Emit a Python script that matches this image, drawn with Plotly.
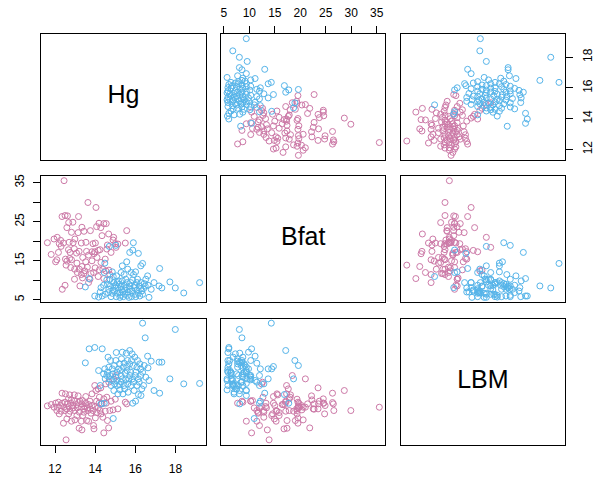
import plotly.graph_objects as go

# ---------------- data ----------------
hg_f = [11.62, 11.81, 11.95, 12.03, 12.09, 12.11, 12.17, 12.21, 12.28, 12.30,
        12.35, 12.36, 12.42, 12.45, 12.50, 12.50, 12.52, 12.55, 12.59, 12.59,
        12.62, 12.67, 12.68, 12.70, 12.73, 12.75, 12.78, 12.82, 12.82, 12.89,
        12.90, 12.96, 12.97, 12.98, 12.99, 13.07, 13.09, 13.11, 13.15, 13.17,
        13.20, 13.21, 13.24, 13.31, 13.31, 13.34, 13.34, 13.37, 13.38, 13.44,
        13.44, 13.48, 13.53, 13.54, 13.57, 13.61, 13.64, 13.67, 13.67, 13.74,
        13.76, 13.79, 13.84, 13.84, 13.89, 13.92, 13.94, 13.98, 14.00, 14.01,
        14.04, 14.07, 14.09, 14.15, 14.15, 14.19, 14.21, 14.24, 14.28, 14.29,
        14.34, 14.38, 14.43, 14.43, 14.50, 14.53, 14.55, 14.58, 14.61, 14.67,
        14.68, 14.73, 14.79, 14.89, 14.92, 15.00, 15.04, 15.13, 15.50, 15.57]
bfat_f = [19.63, 16.62, 20.57, 14.73, 15.25, 21.00, 17.14, 19.37, 20.23, 18.68,
          26.33, 7.69, 19.54, 35.52, 8.72, 26.59, 15.42, 13.88, 14.91, 23.49,
          26.50, 17.83, 24.78, 19.72, 15.59, 17.14, 13.27, 22.29, 15.25, 24.87,
          19.63, 18.08, 10.27, 12.84, 20.57, 16.97, 14.39, 11.99, 22.21, 26.33,
          17.40, 12.84, 8.55, 19.54, 11.47, 23.58, 13.53, 10.61, 15.85, 22.55,
          11.73, 12.42, 14.73, 19.72, 17.40, 13.36, 29.93, 16.45, 9.41, 10.27,
          22.72, 11.73, 17.31, 14.99, 19.37, 11.99, 16.80, 17.31, 13.19, 19.54,
          28.65, 23.75, 15.85, 17.65, 10.96, 24.61, 12.67, 17.83, 23.49, 14.56,
          21.43, 12.84, 24.52, 10.44, 15.42, 12.42, 24.52, 18.00, 19.03, 21.86,
          12.59, 11.47, 17.14, 20.32, 21.00, 19.37, 18.43, 19.29, 19.54, 22.72]
lbm_f = [55.24, 56.06, 54.42, 56.88, 52.38, 54.42, 57.49, 50.33, 55.45, 51.97,
         63.02, 56.88, 44.60, 54.42, 57.49, 52.38, 62.61, 34.40, 47.26, 53.40,
         56.47, 59.54, 50.33, 54.83, 62.00, 51.97, 56.88, 58.93, 45.83, 55.45,
         54.01, 62.00, 58.11, 52.38, 46.65, 56.06, 49.31, 54.01, 61.38, 57.29,
         41.53, 51.35, 58.11, 54.42, 45.83, 56.47, 40.50, 58.52, 49.31, 53.40,
         51.35, 54.83, 60.97, 56.88, 46.24, 54.01, 52.38, 56.06, 45.83, 58.11,
         53.20, 50.74, 62.61, 55.45, 52.38, 43.17, 41.12, 67.73, 54.83, 47.87,
         64.66, 58.11, 51.15, 65.68, 54.01, 56.88, 60.56, 52.38, 66.30, 50.33,
         56.47, 48.28, 59.54, 38.66, 51.97, 68.75, 56.88, 60.56, 46.24, 41.73,
         69.78, 52.38, 58.11, 52.79, 71.82, 59.34, 73.87, 53.40, 57.49, 56.47]

hg_m = [13.51, 13.70, 13.98, 14.17, 14.25, 14.29, 14.35, 14.42, 14.45, 14.48,
        14.50, 14.58, 14.61, 14.64, 14.68, 14.70, 14.74, 14.76, 14.79, 14.85,
        14.85, 14.89, 14.90, 14.93, 14.96, 14.97, 15.02, 15.03, 15.05, 15.07,
        15.09, 15.11, 15.13, 15.16, 15.21, 15.21, 15.23, 15.26, 15.29, 15.29,
        15.31, 15.35, 15.35, 15.38, 15.40, 15.44, 15.44, 15.47, 15.49, 15.52,
        15.55, 15.57, 15.59, 15.61, 15.62, 15.64, 15.68, 15.72, 15.72, 15.73,
        15.77, 15.79, 15.81, 15.84, 15.86, 15.87, 15.90, 15.91, 15.94, 15.97,
        15.99, 16.01, 16.02, 16.08, 16.08, 16.11, 16.15, 16.15, 16.19, 16.22,
        16.27, 16.27, 16.28, 16.32, 16.36, 16.36, 16.41, 16.44, 16.49, 16.52,
        16.61, 16.63, 16.68, 16.79, 16.93, 17.18, 17.21, 17.32, 17.72, 17.99,
        18.41, 19.20]
bfat_m = [8.29, 10.44, 5.97, 5.70, 7.00, 8.12, 5.97, 8.72, 11.99, 14.39,
          6.40, 10.10, 8.98, 6.83, 7.69, 18.68, 10.27, 8.55, 5.80, 12.16,
          6.66, 7.52, 10.96, 9.41, 8.38, 7.26, 8.72, 18.94, 5.80, 11.13,
          9.41, 6.66, 8.04, 9.84, 8.98, 6.83, 5.63, 6.15, 11.99, 8.38,
          7.69, 9.84, 13.70, 7.00, 5.80, 11.47, 8.72, 7.52, 6.40, 10.27,
          8.12, 14.73, 9.41, 6.15, 12.85, 7.00, 5.63, 17.14, 7.69, 8.55,
          9.41, 11.99, 5.80, 7.26, 10.10, 17.74, 19.63, 11.47, 8.12, 8.72,
          6.40, 12.16, 5.80, 9.41, 7.52, 10.27, 16.88, 6.66, 8.55, 5.97,
          13.70, 7.86, 9.41, 7.26, 14.31, 6.40, 7.86, 9.15, 8.55, 10.27,
          11.13, 8.72, 5.63, 7.69, 9.41, 8.55, 13.02, 8.04, 9.58, 8.04,
          6.75, 9.40]
lbm_m = [81.65, 90.25, 91.07, 76.94, 67.73, 56.47, 90.25, 74.89, 56.88, 77.96,
         71.82, 73.87, 75.92, 85.13, 78.99, 71.82, 73.87, 83.08, 67.73, 77.96,
         70.80, 74.89, 47.47, 64.66, 80.01, 68.75, 72.85, 83.08, 87.99, 70.80,
         75.92, 67.73, 62.61, 77.96, 81.04, 68.34, 65.07, 76.94, 73.87, 69.78,
         84.10, 88.20, 71.82, 62.61, 78.99, 81.44, 67.73, 65.68, 75.30, 71.21,
         87.58, 79.40, 76.94, 83.08, 68.75, 63.64, 71.82, 89.22, 81.04, 73.87,
         75.92, 67.73, 83.08, 87.18, 71.82, 56.88, 80.01, 69.78, 64.66, 85.13,
         73.87, 58.11, 75.92, 78.99, 67.73, 83.08, 62.20, 71.82, 69.78, 81.04,
         77.96, 73.87, 61.59, 65.68, 106.00, 75.92, 67.73, 80.01, 97.00, 72.85,
         85.74, 78.58, 70.80, 82.67, 64.66, 82.06, 63.02, 82.06, 71.82, 102.12,
         68.75, 69.00]

var_names = ["Hg", "Bfat", "LBM"]
hg_ticks = [12, 14, 16, 18]
hg_tick_labels = ["12", "14", "16", "18"]
bfat_ticks = [5, 10, 15, 20, 25, 30, 35]
bfat_top_labels = ["5", "10", "15", "20", "25", "30", "35"]
bfat_side_labels = ["5", "", "15", "", "25", "", "35"]
lbm_ticks = [40, 50, 60, 70, 80, 90, 100]
lbm_tick_labels = ["40", "", "60", "", "80", "", "100"]

# ---------------- styling / layout ----------------
FEMALE_COL = "#CC79A7"
MALE_COL = "#56B4E9"
FONT = "Liberation Sans, Arial, Helvetica, sans-serif"
W, H = 593, 478
col_px = [(41.3, 205.7), (221.0, 385.4), (400.7, 565.1)]
row_px = [(34.0, 160.0), (176.0, 302.0), (318.5, 444.5)]

female = {"Hg": hg_f, "Bfat": bfat_f, "LBM": lbm_f}
male = {"Hg": hg_m, "Bfat": bfat_m, "LBM": lbm_m}


def padded_range(name):
    vals = female[name] + male[name]
    lo, hi = min(vals), max(vals)
    d = hi - lo
    return [lo - 0.04 * d, hi + 0.04 * d]


ranges = {n: padded_range(n) for n in var_names}

fig = go.Figure()
layout = {}

tick_common = dict(ticks="outside", ticklen=7, tickwidth=1, tickcolor="black",
                   showticklabels=True, tickfont=dict(family=FONT, size=12, color="black"))

for i in range(3):
    for j in range(3):
        k = i * 3 + j + 1
        s = "" if k == 1 else str(k)
        xa = dict(domain=[col_px[j][0] / W, col_px[j][1] / W], anchor="y" + s,
                  showline=True, mirror=True, linecolor="black", linewidth=1,
                  showgrid=False, zeroline=False, ticks="", showticklabels=False,
                  fixedrange=True, automargin=False)
        ya = dict(domain=[1 - row_px[i][1] / H, 1 - row_px[i][0] / H], anchor="x" + s,
                  showline=True, mirror=True, linecolor="black", linewidth=1,
                  showgrid=False, zeroline=False, ticks="", showticklabels=False,
                  fixedrange=True, automargin=False)
        if i == j:
            xa["range"] = [0, 1]
            ya["range"] = [0, 1]
            fig.add_trace(go.Scatter(
                x=[0.5], y=[0.5], mode="text", text=[var_names[i]],
                textposition="middle center", xaxis="x" + s, yaxis="y" + s,
                showlegend=False, hoverinfo="skip",
                textfont=dict(family=FONT, size=25, color="black")))
        else:
            xa["range"] = ranges[var_names[j]]
            ya["range"] = ranges[var_names[i]]
            for grp, col in ((female, FEMALE_COL), (male, MALE_COL)):
                fig.add_trace(go.Scatter(
                    x=grp[var_names[j]], y=grp[var_names[i]], mode="markers",
                    xaxis="x" + s, yaxis="y" + s, showlegend=False, hoverinfo="skip",
                    marker=dict(symbol="circle-open", size=6, color=col, line=dict(width=1, color=col))))
        # axes as in R pairs(): alternating sides
        if i == 0 and j == 1:
            xa.update(tick_common, side="top", tickvals=bfat_ticks, ticktext=bfat_top_labels,
                      ticklabelstandoff=4)
        if i == 2 and j == 0:
            xa.update(tick_common, side="bottom", tickvals=hg_ticks, ticktext=hg_tick_labels,
                      ticklabelstandoff=6)
        if i == 2 and j == 2:
            xa.update(tick_common, side="bottom", tickvals=lbm_ticks, ticktext=lbm_tick_labels,
                      ticklabelstandoff=6)
        if j == 0 and i == 1:
            ya.update(tick_common, side="left", tickvals=bfat_ticks, ticktext=bfat_side_labels,
                      tickangle=-90, ticklabelstandoff=5)
        if j == 2 and i == 0:
            ya.update(tick_common, side="right", tickvals=hg_ticks, ticktext=hg_tick_labels,
                      tickangle=-90, ticklabelstandoff=4)
        if j == 2 and i == 2:
            ya.update(tick_common, side="right", tickvals=lbm_ticks, ticktext=lbm_tick_labels,
                      tickangle=-90, ticklabelstandoff=4)
        layout["xaxis" + s] = xa
        layout["yaxis" + s] = ya

fig.update_layout(**layout)
fig.update_layout(width=W, height=H, margin=dict(l=0, r=0, t=0, b=0),
                  paper_bgcolor="white", plot_bgcolor="white",
                  font=dict(family=FONT, color="black"))

fig.write_html("out.html", config={"displayModeBar": False},
               post_script="document.body.style.margin='0px';")
